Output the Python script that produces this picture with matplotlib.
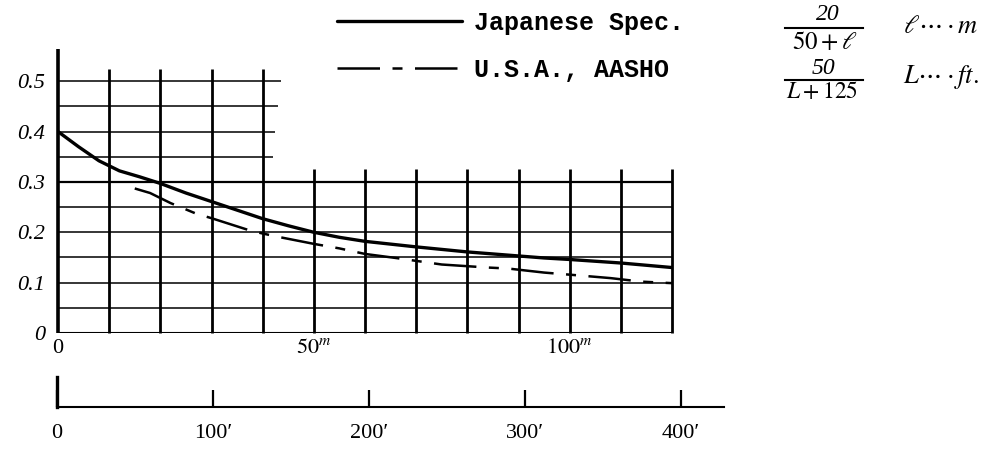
import matplotlib.pyplot as plt
from matplotlib.lines import Line2D

plt.rcParams['font.family'] = ['Liberation Serif', 'DejaVu Serif']
plt.rcParams['mathtext.fontset'] = 'stix'

# Data (distance in m, impact coefficient)
dist_m = [0, 4, 8, 12, 16, 20, 25, 30, 35, 40, 45, 50, 55, 60, 70, 80, 90, 95, 100, 110, 120]
japan = [0.400, 0.370, 0.342, 0.322, 0.310, 0.297, 0.278, 0.261, 0.244, 0.227, 0.213,
         0.200, 0.190, 0.182, 0.171, 0.161, 0.153, 0.149, 0.146, 0.139, 0.130]

aasho_m = [15, 18, 22, 27, 30, 34, 38, 43, 50, 55, 60, 66, 75, 84, 88, 95, 101, 108, 114, 120]
aasho = [0.287, 0.278, 0.258, 0.237, 0.228, 0.215, 0.202, 0.191, 0.177, 0.168, 0.157,
         0.149, 0.136, 0.130, 0.128, 0.120, 0.115, 0.109, 0.102, 0.099]

# grid of the drawing
vx_left = [10, 20, 30, 40]
vx_right = [50, 60, 70, 80, 90, 100, 110, 120]
hy_low = [0.05, 0.10, 0.15, 0.20, 0.25, 0.30]
hy_up = [0.35, 0.40, 0.45, 0.50]
hy_up_end = [42, 42.5, 43, 43.5]

y_ticks = [0, 0.1, 0.2, 0.3, 0.4, 0.5]
y_labels = ["0", "0.1", "0.2", "0.3", "0.4", "0.5"]
m_ticks = [0, 50, 100]
m_labels = ["0", "$50^m$", "$100^m$"]
ft_ticks = [0, 100, 200, 300, 400]
ft_labels = ["0", "100\u2032", "200\u2032", "300\u2032", "400\u2032"]

W, H = 1007, 453
fig = plt.figure(figsize=(W / 100, H / 100), dpi=100)

def fx(px):
    return px / W

def fy(py):
    return 1 - py / H

# main panel: 0..120 m -> 58..672 px, 0..0.56 -> 333..51 px
ax = fig.add_axes([fx(58), fy(333), fx(672) - fx(58), fy(51) - fy(333)])
ax.set_xlim(0, 120)
ax.set_ylim(0, 0.56)
for s in ax.spines.values():
    s.set_visible(False)

ax.vlines(0, 0, 0.563, color='black', lw=2.6, clip_on=False)
ax.vlines(vx_left, 0, 0.525, color='black', lw=2.0, clip_on=False)
ax.vlines(vx_right, 0, 0.325, color='black', lw=2.0, clip_on=False)
ax.hlines(0, 0, 120, color='black', lw=1.5)
ax.hlines(hy_low, 0, 120, color='black', lw=1.1)
ax.hlines(0.30, 0, 120, color='black', lw=1.6)
ax.hlines(hy_up, 0, hy_up_end, color='black', lw=1.1)

jp_line, = ax.plot(dist_m, japan, color='black', lw=2.4, solid_capstyle='round',
                   label='Japanese Spec.')
us_line, = ax.plot(aasho_m, aasho, color='black', lw=1.8, dashes=(17, 5, 4, 5),
                   label='U.S.A., AASHO')

ax.set_yticks(y_ticks, y_labels, fontsize=16, style='italic')
ax.set_xticks(m_ticks, m_labels, fontsize=16)
ax.tick_params(axis='y', length=0, pad=9)
ax.tick_params(axis='x', length=0, pad=4)

leg = ax.legend(handles=[jp_line, us_line], loc='upper left',
                bbox_to_anchor=(fx(337), fy(11)), bbox_transform=fig.transFigure,
                frameon=False, borderpad=0, borderaxespad=0,
                handlelength=5.0, handletextpad=0.5, labelspacing=0.9,
                prop={'family': 'Liberation Mono', 'weight': 'bold', 'size': 18})

# feet scale below: 1 ft = 0.3048 m, same px scale as above
px_per_ft = (672 - 58) / 120 * 0.3048
ft_max = 428
axf = fig.add_axes([fx(57), fy(407), fx(57 + ft_max * px_per_ft) - fx(57), fy(377) - fy(407)])
axf.set_xlim(0, ft_max)
axf.set_ylim(0, 1)
axf.spines['top'].set_visible(False)
axf.spines['right'].set_visible(False)
axf.spines['bottom'].set_linewidth(1.5)
axf.spines['left'].set_linewidth(2.4)
axf.set_yticks([])
axf.set_xticks(ft_ticks, ft_labels, fontsize=16)
axf.tick_params(axis='x', direction='in', length=12, width=1.6, pad=12)
axf.patch.set_alpha(0)

# handwritten formulas at the right
fig.text(fx(828), fy(15), "20", fontsize=17, style='italic', ha='center', va='center')
fig.add_artist(Line2D([fx(785), fx(863)], [fy(28), fy(28)], color='black', lw=1.5))
fig.text(fx(825), fy(43), r"$50+\ell$", fontsize=18, ha='center', va='center')
fig.text(fx(903), fy(27), r"$\ell\cdots\cdot m$", fontsize=19, ha='left', va='center')

fig.text(fx(823), fy(68), "50", fontsize=17, style='italic', ha='center', va='center')
fig.add_artist(Line2D([fx(785), fx(863)], [fy(80), fy(80)], color='black', lw=1.5))
fig.text(fx(822), fy(92), r"$L+125$", fontsize=17, ha='center', va='center')
fig.text(fx(903), fy(77), r"$L\cdots\cdot ft.$", fontsize=19, ha='left', va='center')

fig.savefig('out.png', dpi=100)
